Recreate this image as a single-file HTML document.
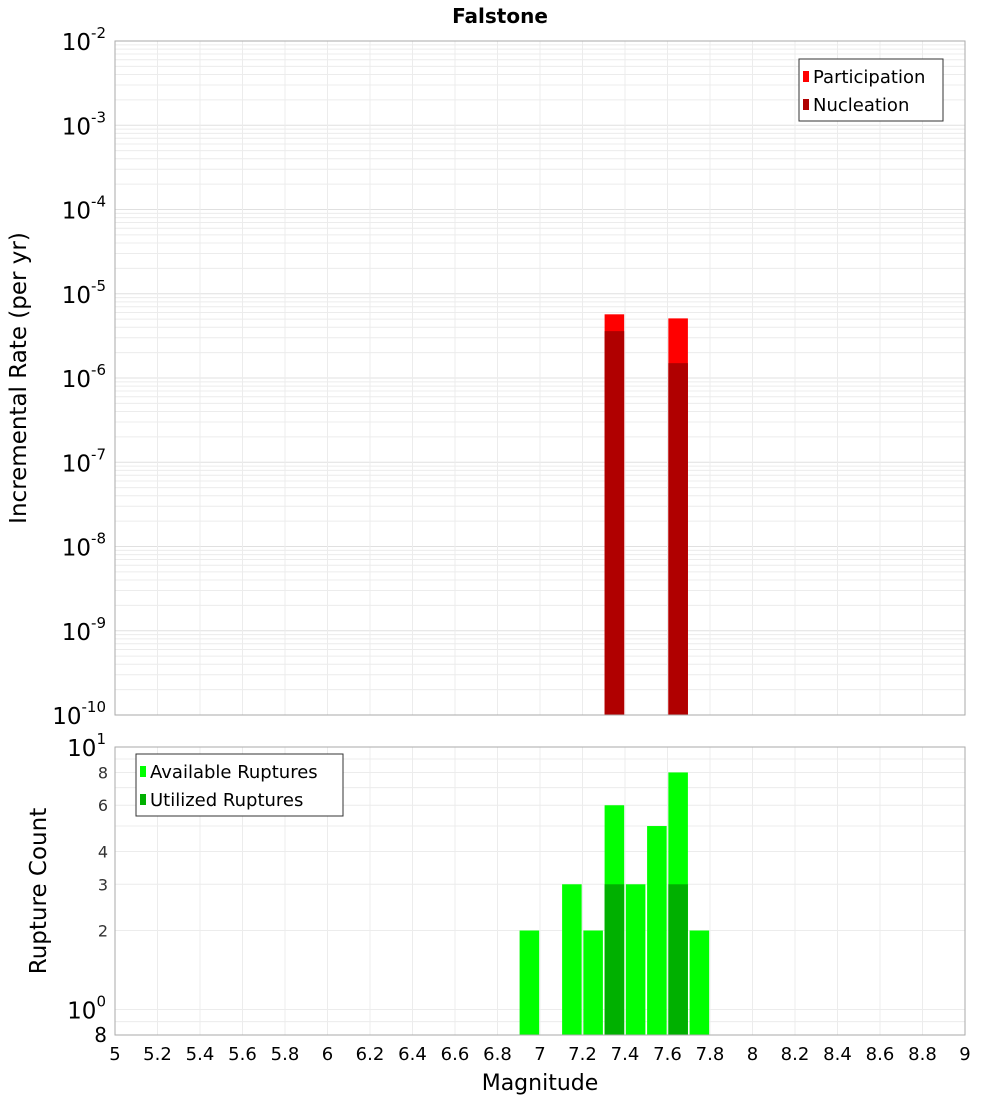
<!DOCTYPE html>
<html><head><meta charset="utf-8"><style>
body{margin:0;background:#fff;font-family:"DejaVu Sans","Liberation Sans",sans-serif}
svg text{font-family:"DejaVu Sans","Liberation Sans",sans-serif}
</style></head><body>
<svg id="c" width="1000" height="1100" xmlns="http://www.w3.org/2000/svg"></svg>
<script>
const rateMags=[7.35,7.65];
const participation=[5.7e-6,5.1e-6];
const nucleation=[3.6e-6,1.5e-6];
const countMags=[6.95,7.15,7.25,7.35,7.45,7.55,7.65,7.75];
const available=[2,3,2,6,3,5,8,2];
const utilMags=[7.35,7.65];
const utilized=[3,3];
const xTicks=[5,5.2,5.4,5.6,5.8,6,6.2,6.4,6.6,6.8,7,7.2,7.4,7.6,7.8,8,8.2,8.4,8.6,8.8,9];
const topExps=[-2,-3,-4,-5,-6,-7,-8,-9,-10];
const botTicks=[2,3,4,6,8];

const svg=document.getElementById('c');
const NS='http://www.w3.org/2000/svg';
function el(t,a,p){const e=document.createElementNS(NS,t);for(const k in a)e.setAttribute(k,a[k]);(p||svg).appendChild(e);return e;}
const X0=115,X1=965;
const xs=m=>X0+(m-5)/4*(X1-X0);
const T0=41,T1=715;
const yTop=v=>T0+(-2-Math.log10(v))/8*(T1-T0);
const B0=747,B1=1035;
const yBot=v=>B0+(1-Math.log10(v))/(1-Math.log10(0.8))*(B1-B0);

// title
const t=el('text',{x:500,y:23,'text-anchor':'middle','font-size':20,'font-weight':'bold'});t.textContent='Falstone';


// top grid
const gT=el('g',{});
for(let e=-10;e<-2;e++)for(let k=1;k<10;k++){const y=yTop(k*Math.pow(10,e));el('line',{x1:X0,x2:X1,y1:y,y2:y,stroke:k==1?'#e0e0e0':'#ececec','stroke-width':1},gT);}
xTicks.forEach(m=>el('line',{x1:xs(m),x2:xs(m),y1:T0,y2:T1,stroke:'#ececec'},gT));
// bottom grid
const gB=el('g',{});
[1,2,3,4,5,6,7,8,9].forEach(v=>{const y=yBot(v);el('line',{x1:X0,x2:X1,y1:y,y2:y,stroke:'#ececec'},gB);});
[0.9].forEach(v=>{const y=yBot(v);el('line',{x1:X0,x2:X1,y1:y,y2:y,stroke:'#ececec'},gB);});
xTicks.forEach(m=>el('line',{x1:xs(m),x2:xs(m),y1:B0,y2:B1,stroke:'#ececec'},gB));

// top bars
const bw=(xs(5.1)-xs(5))*0.92;
rateMags.forEach((m,i)=>{
 const r=el('rect',{x:xs(m)-bw/2,y:yTop(participation[i]),width:bw,height:T1-yTop(participation[i]),fill:'#ff0000'});
 
 const n=el('rect',{x:xs(m)-bw/2,y:yTop(nucleation[i]),width:bw,height:T1-yTop(nucleation[i]),fill:'#b00000'});
 
});
// bottom bars
countMags.forEach((m,i)=>{
 const r=el('rect',{x:xs(m)-bw/2,y:yBot(available[i]),width:bw,height:B1-yBot(available[i]),fill:'#00ff00'});
 
});
utilMags.forEach((m,i)=>{
 const r=el('rect',{x:xs(m)-bw/2,y:yBot(utilized[i]),width:bw,height:B1-yBot(utilized[i]),fill:'#00b000'});
 
});

// frames
let f=el('rect',{x:X0,y:T0,width:X1-X0,height:T1-T0,fill:'none',stroke:'#aaa'});
f=el('rect',{x:X0,y:B0,width:X1-X0,height:B1-B0,fill:'none',stroke:'#aaa'});

// top y ticks
topExps.forEach(e=>{
 const y=yTop(Math.pow(10,e));
 const tx=el('text',{x:106,y:y+9,'text-anchor':'end','font-size':23});
 
 const a=el('tspan',{},tx);a.textContent='10';
 const b=el('tspan',{dy:-12,'font-size':15},tx);b.textContent=String(e);
});
// bottom y ticks
[[10,'10','1'],[1,'10','0']].forEach(([v,base,sup])=>{
 const y=yBot(v);
 const tx=el('text',{x:106,y:y+9,'text-anchor':'end','font-size':23});
 
 const a=el('tspan',{},tx);a.textContent=base;
 const b=el('tspan',{dy:-12,'font-size':15},tx);b.textContent=sup;
});
botTicks.forEach(v=>{
 const tx=el('text',{x:108,y:yBot(v)+6,'text-anchor':'end','font-size':16,fill:'#333'});tx.textContent=String(v);
 
});
let b8=el('text',{x:107,y:1042,'text-anchor':'end','font-size':20});b8.textContent='8';


// x ticks
xTicks.forEach(m=>{
 const tx=el('text',{x:xs(m),y:1060,'text-anchor':'middle','font-size':18});tx.textContent=String(m);
 
});
let xl=el('text',{x:540,y:1090,'text-anchor':'middle','font-size':22});xl.textContent='Magnitude';

let yl=el('text',{x:0,y:0,'text-anchor':'middle','font-size':23,transform:'translate(26,378) rotate(-90)'});yl.textContent='Incremental Rate (per yr)';

let yl2=el('text',{x:0,y:0,'text-anchor':'middle','font-size':23,transform:'translate(46,891) rotate(-90)'});yl2.textContent='Rupture Count';


// legends
function legend(x,y,w,items,name){
 const g=el('g',{});
 el('rect',{x:x,y:y,width:w,height:items.length*28+6,fill:'#fff',stroke:'#333'},g);
 items.forEach((it,i)=>{
  const cy=y+17+i*28;
  el('rect',{x:x+4,y:cy-5,width:6,height:11,fill:it[1]},g);
  const tx=el('text',{x:x+14,y:cy+7,'font-size':18},g);tx.textContent=it[0];
  
 });
}
legend(799,59,144,[['Participation','#ff0000'],['Nucleation','#b00000']],'top-legend');
legend(136,754,207,[['Available Ruptures','#00ff00'],['Utilized Ruptures','#00b000']],'bottom-legend');
</script>
</body></html>
